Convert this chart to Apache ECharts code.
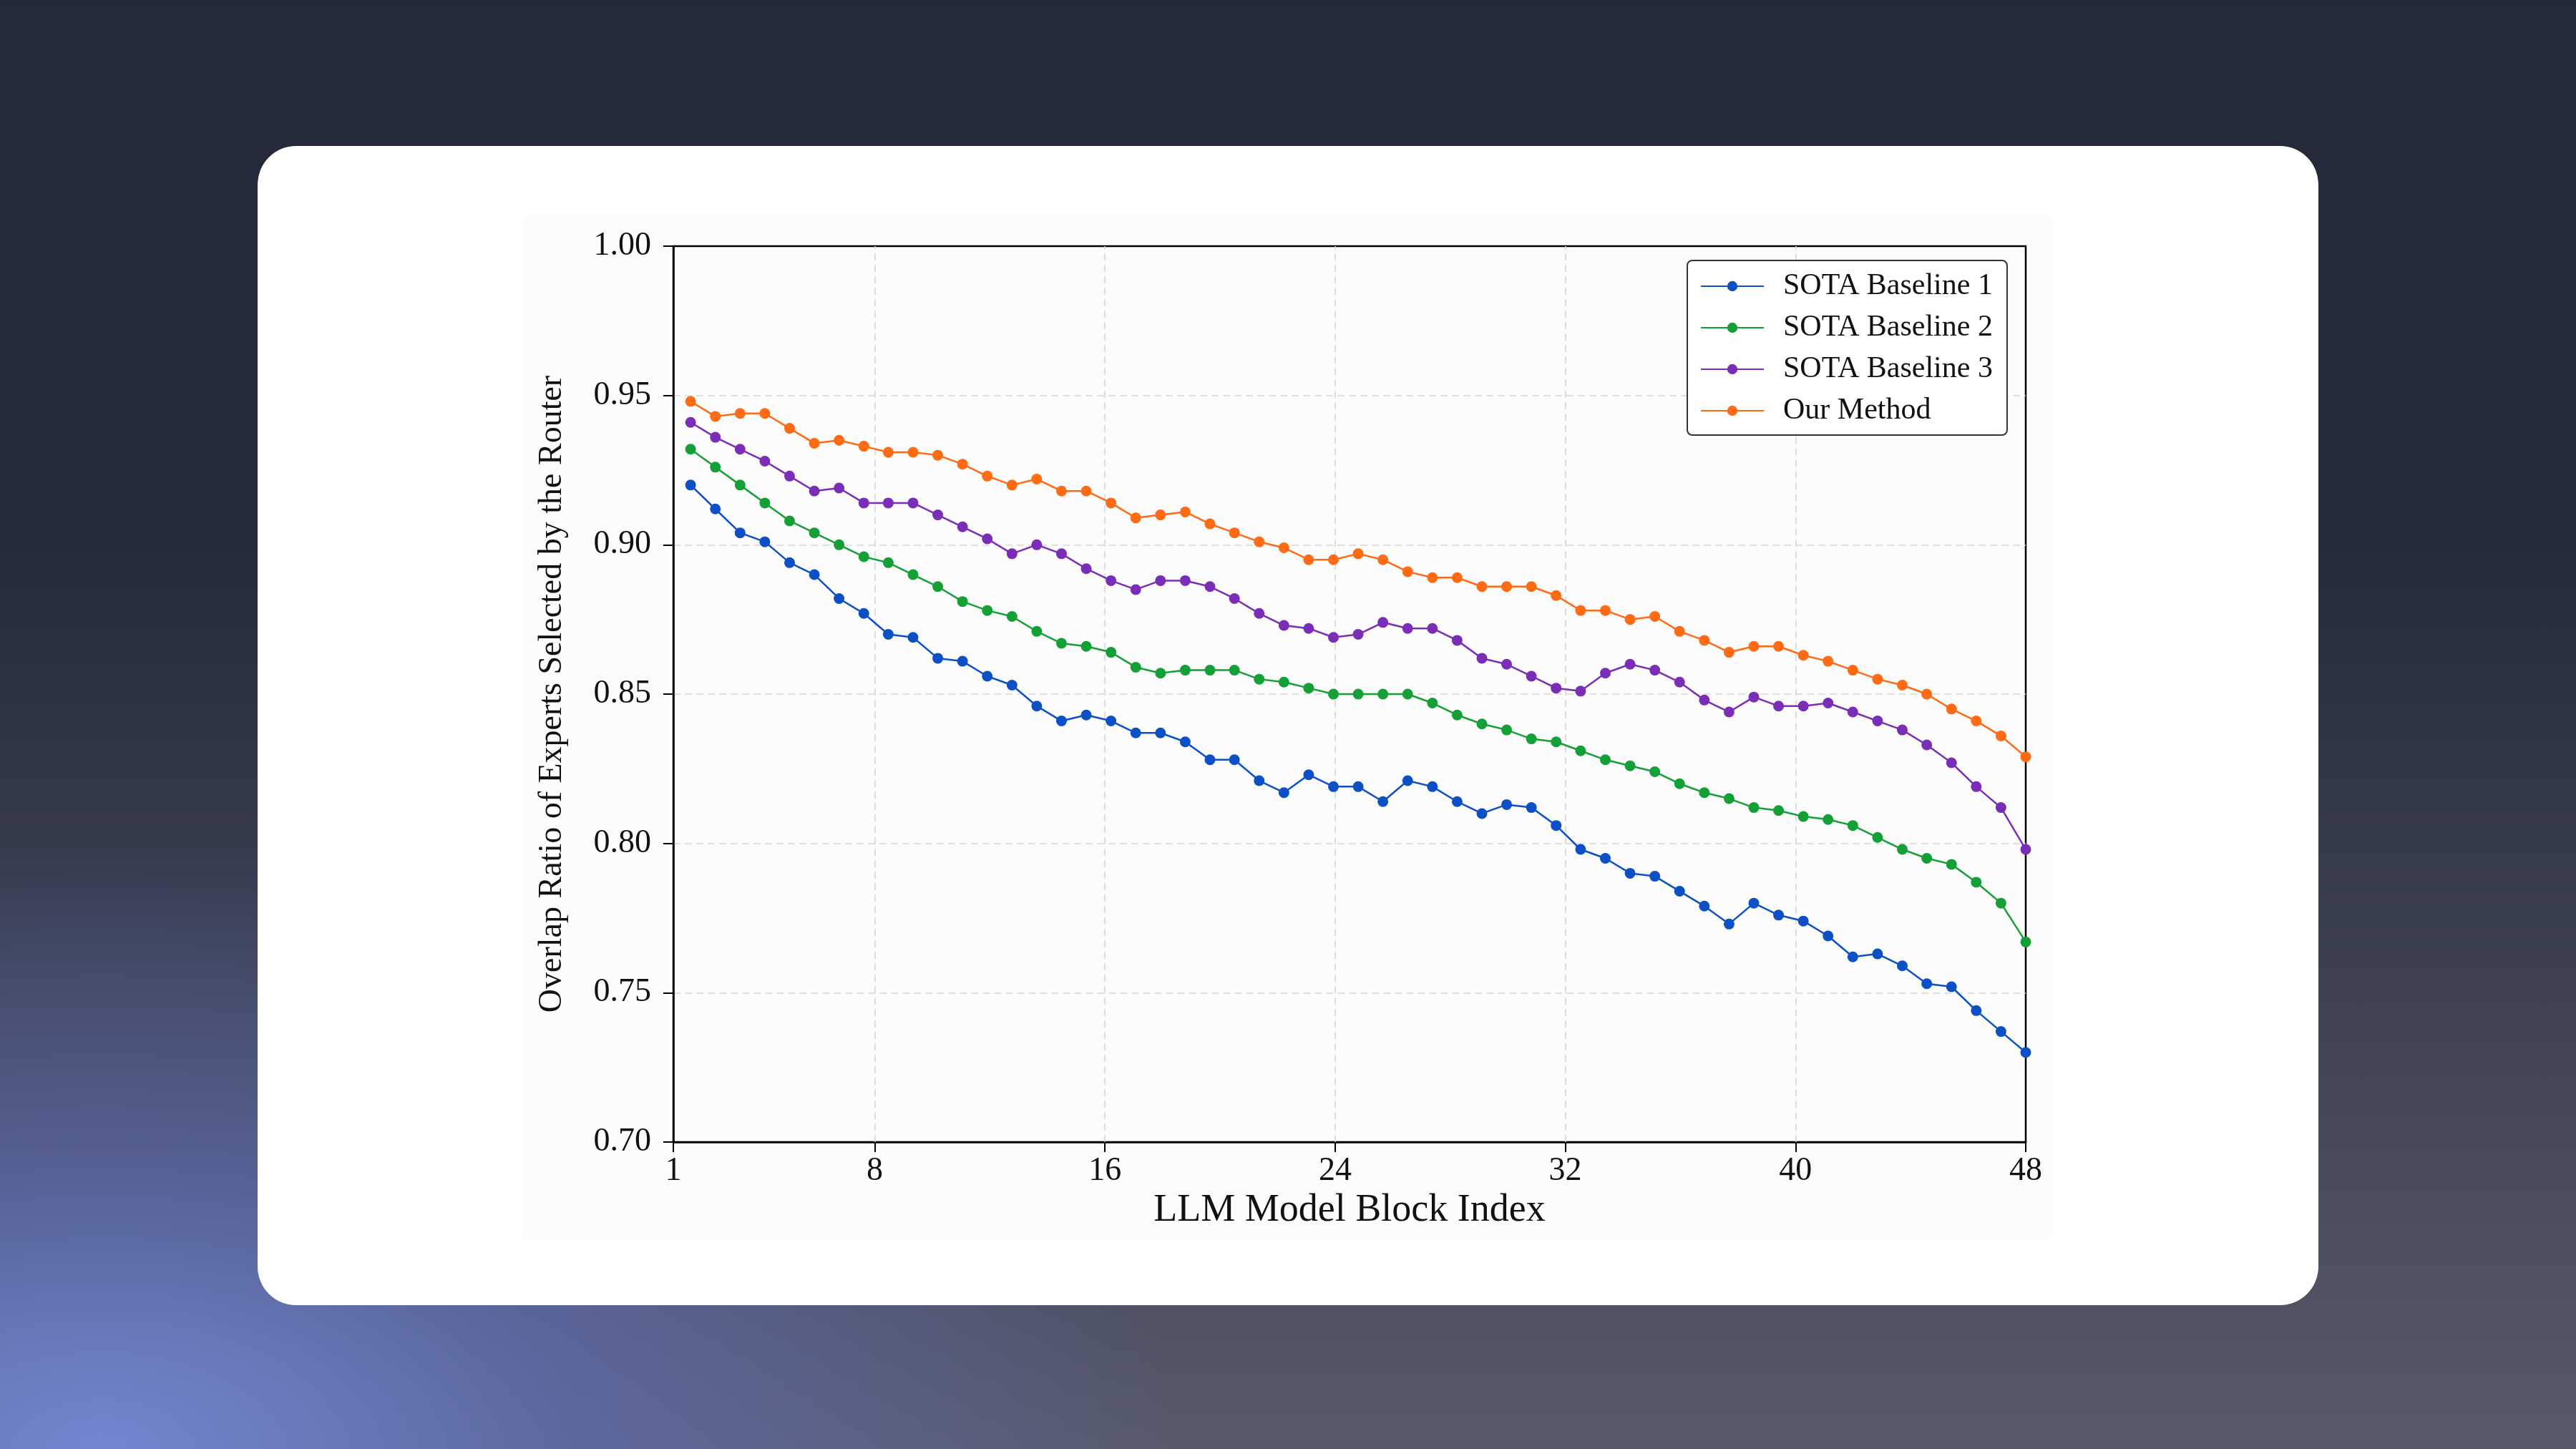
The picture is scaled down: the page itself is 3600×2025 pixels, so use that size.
<!DOCTYPE html>
<html>
<head>
<meta charset="utf-8">
<title>Overlap Ratio by Block</title>
<script src="https://cdn.jsdelivr.net/npm/echarts@6/dist/echarts.min.js"></script>
<style>
    html, body {
        margin: 0;
        padding: 0;
        width: 3600px;
        height: 2025px;
        overflow: hidden;
    }
    body {
        position: relative;
        background:
            radial-gradient(ellipse 1500px 850px at 4% 100%, rgba(116, 136, 214, 0.95) 0%, rgba(96, 116, 196, 0.55) 45%, rgba(80, 96, 170, 0) 100%),
            linear-gradient(to bottom, #242938 0%, #262b3b 38%, #3d4152 68%, #585a6b 100%);
    }
    #card {
        position: absolute;
        left: 360px;
        top: 204px;
        width: 2880px;
        height: 1620px;
        background: #ffffff;
        border-radius: 54px;
    }
    #panel {
        position: absolute;
        left: 731px;
        top: 302px;
        width: 2136px;
        height: 1430px;
        background: #fcfcfc;
    }
    #chart {
        position: absolute;
        left: 0;
        top: 0;
        width: 3600px;
        height: 2025px;
    }
</style>
</head>
<body>
<div id="card"></div>
<div id="panel"></div>
<div id="chart"></div>
<script>
// x position of each plotted point (block index axis)
const blockPos = [
    1.60, 2.46, 3.32, 4.18, 5.04, 5.90, 6.76, 7.62, 8.47, 9.33,
    10.19, 11.05, 11.91, 12.77, 13.63, 14.49, 15.35, 16.21, 17.07, 17.93,
    18.79, 19.65, 20.50, 21.36, 22.22, 23.08, 23.94, 24.80, 25.66, 26.52,
    27.38, 28.24, 29.10, 29.96, 30.82, 31.68, 32.53, 33.39, 34.25, 35.11,
    35.97, 36.83, 37.69, 38.55, 39.41, 40.27, 41.13, 41.99, 42.85, 43.71,
    44.56, 45.42, 46.28, 47.14, 48.00
];

const baseline1 = [
    0.920, 0.912, 0.904, 0.901, 0.894, 0.890, 0.882, 0.877, 0.870, 0.869,
    0.862, 0.861, 0.856, 0.853, 0.846, 0.841, 0.843, 0.841, 0.837, 0.837,
    0.834, 0.828, 0.828, 0.821, 0.817, 0.823, 0.819, 0.819, 0.814, 0.821,
    0.819, 0.814, 0.810, 0.813, 0.812, 0.806, 0.798, 0.795, 0.790, 0.789,
    0.784, 0.779, 0.773, 0.780, 0.776, 0.774, 0.769, 0.762, 0.763, 0.759,
    0.753, 0.752, 0.744, 0.737, 0.730
];

const baseline2 = [
    0.932, 0.926, 0.920, 0.914, 0.908, 0.904, 0.900, 0.896, 0.894, 0.890,
    0.886, 0.881, 0.878, 0.876, 0.871, 0.867, 0.866, 0.864, 0.859, 0.857,
    0.858, 0.858, 0.858, 0.855, 0.854, 0.852, 0.850, 0.850, 0.850, 0.850,
    0.847, 0.843, 0.840, 0.838, 0.835, 0.834, 0.831, 0.828, 0.826, 0.824,
    0.820, 0.817, 0.815, 0.812, 0.811, 0.809, 0.808, 0.806, 0.802, 0.798,
    0.795, 0.793, 0.787, 0.780, 0.767
];

const baseline3 = [
    0.941, 0.936, 0.932, 0.928, 0.923, 0.918, 0.919, 0.914, 0.914, 0.914,
    0.910, 0.906, 0.902, 0.897, 0.900, 0.897, 0.892, 0.888, 0.885, 0.888,
    0.888, 0.886, 0.882, 0.877, 0.873, 0.872, 0.869, 0.870, 0.874, 0.872,
    0.872, 0.868, 0.862, 0.860, 0.856, 0.852, 0.851, 0.857, 0.860, 0.858,
    0.854, 0.848, 0.844, 0.849, 0.846, 0.846, 0.847, 0.844, 0.841, 0.838,
    0.833, 0.827, 0.819, 0.812, 0.798
];

const ourMethod = [
    0.948, 0.943, 0.944, 0.944, 0.939, 0.934, 0.935, 0.933, 0.931, 0.931,
    0.930, 0.927, 0.923, 0.920, 0.922, 0.918, 0.918, 0.914, 0.909, 0.910,
    0.911, 0.907, 0.904, 0.901, 0.899, 0.895, 0.895, 0.897, 0.895, 0.891,
    0.889, 0.889, 0.886, 0.886, 0.886, 0.883, 0.878, 0.878, 0.875, 0.876,
    0.871, 0.868, 0.864, 0.866, 0.866, 0.863, 0.861, 0.858, 0.855, 0.853,
    0.850, 0.845, 0.841, 0.836, 0.829
];

const seriesNames = ['SOTA Baseline 1', 'SOTA Baseline 2', 'SOTA Baseline 3', 'Our Method'];
const seriesColors = ['#0d50c6', '#14a036', '#7a2db6', '#ff6a14'];
const xTicks = [1, 8, 16, 24, 32, 40, 48];

const FONT = '"Liberation Serif", "Times New Roman", serif';

function toPairs(values) {
    return values.map((v, i) => [blockPos[i], v]);
}

function getChartOption() {
    const allValues = [baseline1, baseline2, baseline3, ourMethod];

    const series = allValues.map((vals, i) => ({
        name: seriesNames[i],
        type: 'line',
        data: toPairs(vals),
        symbol: 'circle',
        symbolSize: 15,
        showSymbol: true,
        lineStyle: {color: seriesColors[i], width: 2.5},
        itemStyle: {color: seriesColors[i]},
        z: 3 + i,
    }));

    // vertical dashed grid lines at the inner x ticks
    series[0].markLine = {
        silent: true,
        symbol: 'none',
        label: {show: false},
        lineStyle: {color: '#d6d6d6', type: [10, 6], width: 1.6},
        data: xTicks.slice(1, -1).map(t => ({xAxis: t})),
        z: 1,
    };

    return {
        animation: false,
        backgroundColor: 'transparent',
        textStyle: {fontFamily: FONT},
        grid: {
            left: 941,
            right: 769,
            top: 344,
            bottom: 429,
            show: true,
            borderColor: '#000',
            borderWidth: 2.5,
            backgroundColor: 'transparent',
        },
        legend: {
            data: seriesNames,
            orient: 'vertical',
            left: 2358,
            top: 364,
            padding: [15, 20, 13, 18],
            itemWidth: 88,
            itemHeight: 18,
            itemGap: 16,
            backgroundColor: '#fff',
            borderColor: '#333',
            borderWidth: 2,
            borderRadius: 7,
            textStyle: {
                fontFamily: FONT,
                fontSize: 42,
                color: '#111',
                lineHeight: 42,
                padding: [0, 0, 0, 22],
            },
        },
        xAxis: {
            type: 'value',
            min: 1,
            max: 48,
            name: 'LLM Model Block Index',
            nameLocation: 'middle',
            nameGap: 64,
            nameTextStyle: {fontFamily: FONT, fontSize: 54, color: '#111'},
            axisLine: {lineStyle: {color: '#000', width: 2.5}},
            axisTick: {
                show: true,
                customValues: xTicks,
                length: 14,
                lineStyle: {color: '#000', width: 2},
            },
            axisLabel: {
                customValues: xTicks,
                fontFamily: FONT,
                fontSize: 46,
                color: '#111',
                margin: 18,
            },
            splitLine: {show: false},
        },
        yAxis: {
            type: 'value',
            min: 0.70,
            max: 1.00,
            interval: 0.05,
            name: 'Overlap Ratio of Experts Selected by the Router',
            nameLocation: 'middle',
            nameGap: 146,
            nameTextStyle: {fontFamily: FONT, fontSize: 46, color: '#111'},
            axisLine: {show: true, lineStyle: {color: '#000', width: 2.5}},
            axisTick: {
                show: true,
                length: 14,
                lineStyle: {color: '#000', width: 2},
            },
            axisLabel: {
                fontFamily: FONT,
                fontSize: 46,
                color: '#111',
                margin: 31,
                formatter: v => v.toFixed(2),
            },
            splitLine: {
                show: true,
                showMinLine: false,
                showMaxLine: false,
                lineStyle: {color: '#d6d6d6', type: [10, 6], width: 1.6},
            },
        },
        series: series,
    };
}

function loadGraph() {
    const chart = echarts.init(document.getElementById('chart'), null, {renderer: 'canvas'});
    chart.setOption(getChartOption());
    window.addEventListener('resize', () => {
        chart.resize();
    });
}

loadGraph();
</script>
</body>
</html>
